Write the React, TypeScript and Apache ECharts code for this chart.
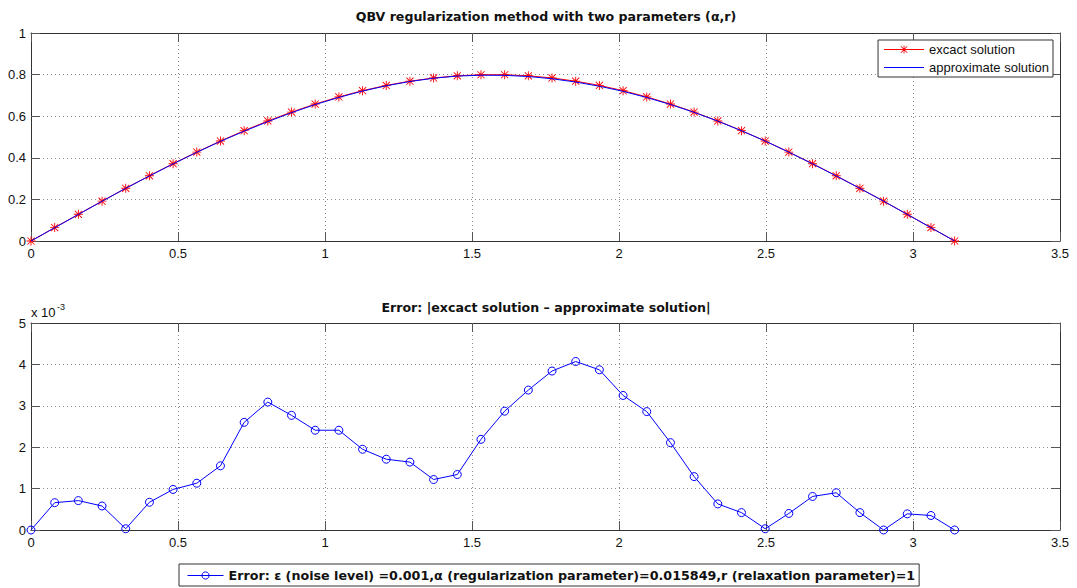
import React, { useEffect, useRef } from "react";
import * as echarts from "echarts";

const FONT = '"Liberation Sans", Arial, Helvetica, sans-serif';
const WIDE_FONT = '"DejaVu Sans", "Liberation Sans", sans-serif';

const xs = [0, 0.0806, 0.1611, 0.2417, 0.3222, 0.4028, 0.4833, 0.5639, 0.6444, 0.725, 0.8055, 0.8861, 0.9666, 1.0472, 1.1278, 1.2083, 1.2889, 1.3694, 1.45, 1.5305, 1.6111, 1.6916, 1.7722, 1.8527, 1.9333, 2.0139, 2.0944, 2.175, 2.2555, 2.3361, 2.4166, 2.4972, 2.5777, 2.6583, 2.7389, 2.8194, 2.9, 2.9805, 3.0611, 3.1416];

const exactValues = [0, 0.0644, 0.1283, 0.1915, 0.2533, 0.3135, 0.3717, 0.4275, 0.4806, 0.5305, 0.577, 0.6197, 0.6584, 0.6928, 0.7228, 0.748, 0.7684, 0.7838, 0.7942, 0.7993, 0.7993, 0.7942, 0.7838, 0.7684, 0.748, 0.7228, 0.6928, 0.6584, 0.6197, 0.577, 0.5305, 0.4806, 0.4275, 0.3717, 0.3135, 0.2533, 0.1915, 0.1283, 0.0644, 0];

const approxValues = [0, 0.0637, 0.1276, 0.1909, 0.2533, 0.3128, 0.3707, 0.4264, 0.479, 0.5279, 0.5739, 0.6169, 0.656, 0.6904, 0.7208, 0.7463, 0.7668, 0.7826, 0.7929, 0.7971, 0.7964, 0.7908, 0.78, 0.7643, 0.7441, 0.7196, 0.6899, 0.6563, 0.6184, 0.5764, 0.5301, 0.4806, 0.4271, 0.3709, 0.3126, 0.2529, 0.1915, 0.1279, 0.064, 0];

// error values in units of 1e-3
const errorE3 = [0, 0.66, 0.71, 0.58, 0.03, 0.67, 0.98, 1.13, 1.55, 2.6, 3.09, 2.77, 2.41, 2.41, 1.95, 1.71, 1.64, 1.22, 1.34, 2.19, 2.87, 3.38, 3.84, 4.07, 3.87, 3.25, 2.86, 2.11, 1.29, 0.63, 0.42, 0.03, 0.4, 0.81, 0.9, 0.42, 0.0, 0.39, 0.35, 0];

const TITLE_TOP = "QBV regularization method with two parameters (\u03b1,r)";
const TITLE_BOTTOM = "Error: |excact solution \u2013 approximate solution|";
const NAME_EXACT = "excact solution";
const NAME_APPROX = "approximate solution";
const NAME_ERROR =
  "Error: \u03b5 (noise level) =0.001,\u03b1 (regularization parameter)=0.015849,r (relaxation parameter)=1";

const STAR =
  "path://M9 0H11V20H9Z M0 9H20V11H0Z M2.8 1.4L18.6 17.2L17.2 18.6L1.4 2.8Z M17.2 1.4L18.6 2.8L2.8 18.6L1.4 17.2Z";
// legend icons: a 40-wide line, with an asterisk in the middle for the exact solution
const EXACT_ICON =
  "path://M0 4.5H40V5.5H0Z M19.6 1H20.4V9H19.6Z M16 4.6H24V5.4H16Z M17.12 1.56L23.44 7.88L22.88 8.44L16.56 2.12Z M22.88 1.56L23.44 2.12L17.12 8.44L16.56 7.88Z";
const APPROX_ICON = "path://M0 0H40V1H0Z";

const RED = "#ff0000";
const BLUE = "#0000ff";
const AXIS_COLOR = "#333";
const TICK_COLOR = "#555";
const GRID_COLOR = "#8a8a8a";

function xAxisPair(gridIndex: number) {
  const common = {
    type: "value" as const,
    gridIndex,
    min: 0,
    max: 3.5,
    interval: 0.5,
    axisLine: { show: true, onZero: false, lineStyle: { color: AXIS_COLOR, width: 1 } },
    axisTick: { show: true, inside: true, length: 9, lineStyle: { color: TICK_COLOR, width: 1 } },
  };
  return [
    {
      ...common,
      position: "bottom",
      axisLabel: { show: true, color: "#111", fontSize: 13, fontFamily: FONT, margin: 6 },
      splitLine: { show: true, lineStyle: { color: GRID_COLOR, type: [1, 3], width: 1 } },
    },
    {
      ...common,
      position: "top",
      axisLabel: { show: false },
      splitLine: { show: false },
    },
  ];
}

function yAxisPair(gridIndex: number, max: number, interval: number) {
  const common = {
    type: "value" as const,
    gridIndex,
    min: 0,
    max,
    interval,
    axisLine: { show: true, onZero: false, lineStyle: { color: AXIS_COLOR, width: 1 } },
    axisTick: { show: true, inside: true, length: 9, lineStyle: { color: TICK_COLOR, width: 1 } },
  };
  return [
    {
      ...common,
      position: "left",
      axisLabel: { show: true, color: "#111", fontSize: 13, fontFamily: FONT, margin: 5 },
      splitLine: { show: true, lineStyle: { color: GRID_COLOR, type: [1, 3], width: 1 } },
    },
    {
      ...common,
      position: "right",
      axisLabel: { show: false },
      splitLine: { show: false },
    },
  ];
}

export default function App() {
  const ref = useRef<HTMLDivElement>(null);

  useEffect(() => {
    document.body.style.margin = "0";
    if (!ref.current) return;
    const chart = echarts.init(ref.current, undefined, { renderer: "svg" });

    const titleStyle = {
      align: "center",
      verticalAlign: "middle",
      fontSize: 12.6,
      fontWeight: "bold",
      fontFamily: WIDE_FONT,
      fill: "#111",
    };

    const option = {
      animation: false,
      backgroundColor: "#fff",
      grid: [
        { left: 31, top: 33, width: 1029, height: 208 },
        { left: 31, top: 323, width: 1029, height: 207 },
      ],
      xAxis: [...xAxisPair(0), ...xAxisPair(1)],
      yAxis: [...yAxisPair(0, 1, 0.2), ...yAxisPair(1, 5, 1)],
      legend: [
        {
          data: [
            {
              name: NAME_EXACT,
              icon: EXACT_ICON,
              itemStyle: { color: RED, borderColor: RED, borderWidth: 0 },
            },
            {
              name: NAME_APPROX,
              icon: APPROX_ICON,
              itemStyle: { color: BLUE, borderColor: BLUE, borderWidth: 0 },
            },
          ],
          orient: "vertical",
          right: 24,
          top: 40,
          itemWidth: 40,
          itemHeight: 10,
          itemGap: 5,
          symbolKeepAspect: true,
          padding: [3, 4, 3, 6],
          borderColor: "#333",
          borderWidth: 1,
          backgroundColor: "#fff",
          textStyle: { fontSize: 13, fontFamily: FONT, color: "#111" },
        },
        {
          data: [NAME_ERROR],
          left: 179,
          bottom: 2,
          itemWidth: 36,
          itemHeight: 9,
          padding: [5, 4, 4, 8],
          borderColor: "#333",
          borderWidth: 1,
          backgroundColor: "#fff",
          lineStyle: { width: 1 },
          itemStyle: { borderWidth: 1 },
          textStyle: { fontSize: 12.7, fontFamily: WIDE_FONT, color: "#111", fontWeight: "bold" },
        },
      ],
      graphic: [
        { type: "text", x: 546, y: 16, style: { ...titleStyle, text: TITLE_TOP } },
        { type: "text", x: 546, y: 307, style: { ...titleStyle, text: TITLE_BOTTOM } },
        {
          type: "text",
          x: 31,
          y: 319,
          style: {
            text: "x 10",
            align: "left",
            verticalAlign: "bottom",
            fontSize: 13,
            fontFamily: FONT,
            fill: "#111",
          },
        },
        {
          type: "text",
          x: 57,
          y: 311,
          style: {
            text: "-3",
            align: "left",
            verticalAlign: "bottom",
            fontSize: 9,
            fontFamily: FONT,
            fill: "#111",
          },
        },
      ],
      series: [
        {
          name: NAME_EXACT,
          type: "line",
          xAxisIndex: 0,
          yAxisIndex: 0,
          data: xs.map((x, i) => [x, exactValues[i]]),
          symbol: STAR,
          symbolSize: 9,
          lineStyle: { color: RED, width: 1 },
          itemStyle: { color: RED, borderColor: RED, borderWidth: 0 },
          z: 2,
        },
        {
          name: NAME_APPROX,
          type: "line",
          xAxisIndex: 0,
          yAxisIndex: 0,
          data: xs.map((x, i) => [x, approxValues[i]]),
          symbol: "none",
          lineStyle: { color: BLUE, width: 1 },
          itemStyle: { color: BLUE, borderColor: BLUE, borderWidth: 0 },
          z: 3,
        },
        {
          name: NAME_ERROR,
          type: "line",
          xAxisIndex: 2,
          yAxisIndex: 2,
          data: xs.map((x, i) => [x, errorE3[i]]),
          symbol: "circle",
          symbolSize: 8,
          lineStyle: { color: BLUE, width: 1 },
          itemStyle: { color: "rgba(255,255,255,0)", borderColor: BLUE, borderWidth: 1 },
          z: 3,
        },
      ],
    };

    chart.setOption(option as any);
    return () => chart.dispose();
  }, []);

  return <div ref={ref} style={{ width: 1077, height: 588 }} />;
}
